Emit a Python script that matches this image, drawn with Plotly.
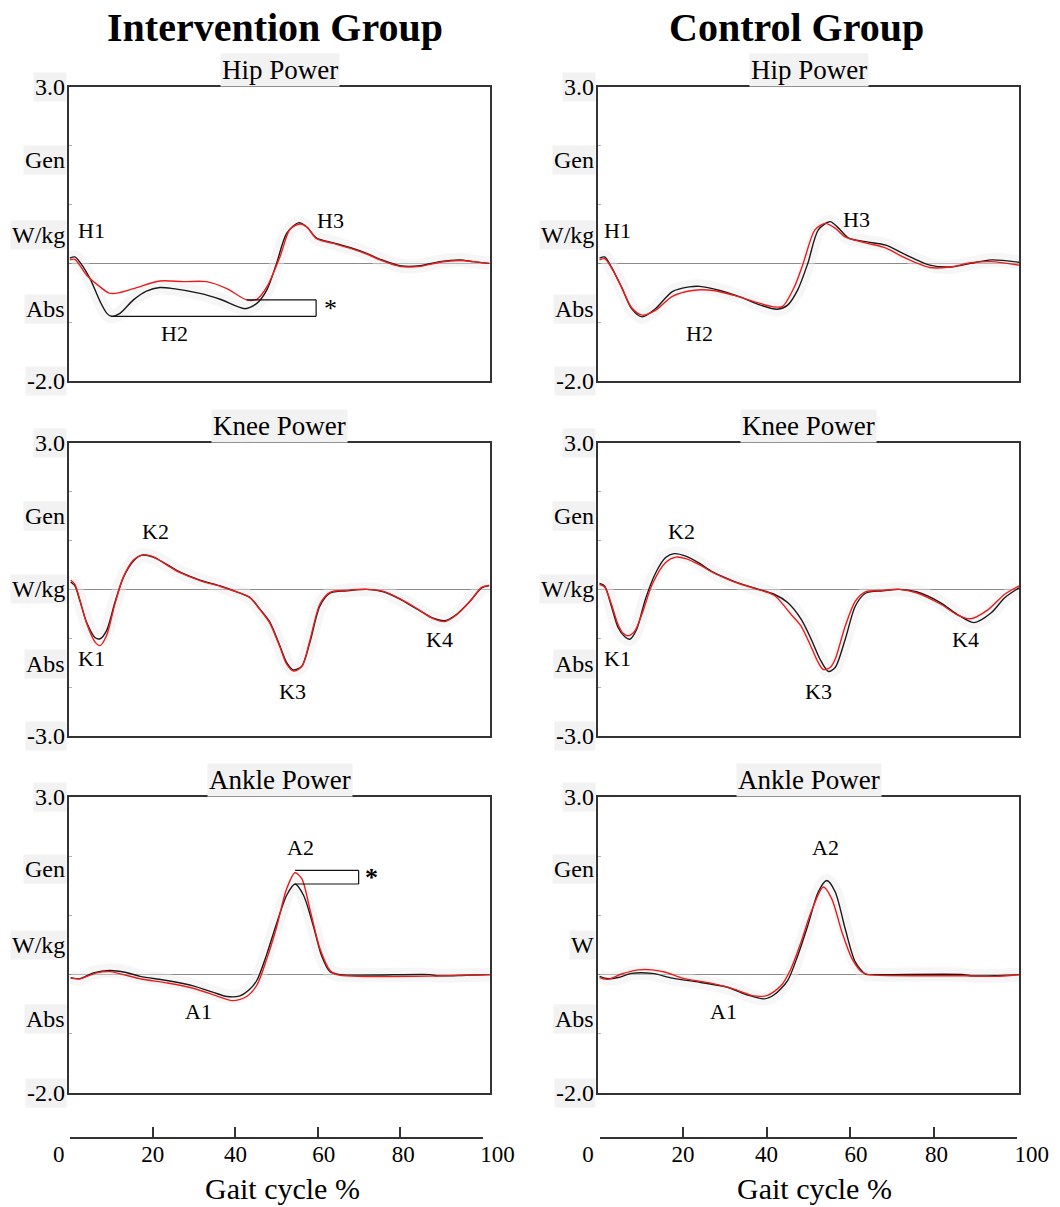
import plotly.graph_objects as go

# ---------------- data (gait cycle %, W/kg) ----------------
# black = pre, red = post
hip_int_pre_x = [0.2, 1.4, 3.0, 5.0, 7.4, 9.0, 10.1, 12.1, 15.3, 18.4, 21.6, 24.8, 31.1, 35.9, 41.8, 44.6, 47.0, 49.3, 51.7, 54.5, 56.5, 58.8, 62.8, 66.7, 70.7, 73.9, 78.6, 83.4, 88.1, 92.9, 96.0, 99.8]
hip_int_pre_y = [0.09, 0.11, -0.02, -0.26, -0.65, -0.85, -0.90, -0.85, -0.62, -0.47, -0.41, -0.43, -0.51, -0.61, -0.77, -0.68, -0.45, 0.0, 0.51, 0.69, 0.62, 0.43, 0.35, 0.27, 0.17, 0.07, -0.04, -0.04, 0.03, 0.06, 0.03, 0.0]
hip_int_post_x = [0.2, 1.4, 4.2, 7.4, 9.4, 11.0, 15.3, 21.6, 27.2, 32.7, 37.5, 42.2, 44.6, 47.0, 50.1, 52.5, 54.9, 56.5, 58.8, 62.8, 66.7, 70.7, 73.9, 78.6, 83.4, 88.1, 92.9, 96.0, 99.8]
hip_int_post_y = [0.06, 0.07, -0.20, -0.40, -0.50, -0.51, -0.43, -0.30, -0.31, -0.31, -0.43, -0.62, -0.61, -0.40, 0.11, 0.58, 0.67, 0.62, 0.42, 0.34, 0.26, 0.16, 0.06, -0.05, -0.05, 0.02, 0.05, 0.03, 0.0]

hip_con_pre_x = [0.3, 1.5, 3.1, 5.5, 7.9, 10.4, 13.6, 17.6, 21.6, 24.1, 28.9, 33.7, 38.6, 42.6, 45.0, 47.4, 49.8, 52.3, 55.1, 57.1, 59.5, 63.5, 68.4, 72.4, 78.8, 83.7, 88.5, 93.4, 100.0]
hip_con_pre_y = [0.09, 0.11, -0.06, -0.40, -0.77, -0.91, -0.77, -0.48, -0.40, -0.39, -0.46, -0.57, -0.71, -0.78, -0.71, -0.45, 0.0, 0.57, 0.71, 0.60, 0.43, 0.37, 0.31, 0.17, -0.03, -0.06, 0.0, 0.06, 0.02]
hip_con_post_x = [0.3, 1.5, 3.1, 5.5, 7.9, 10.4, 13.6, 17.6, 22.4, 27.3, 32.1, 37.0, 41.8, 43.8, 46.6, 48.7, 51.5, 53.9, 56.3, 58.7, 63.5, 68.4, 72.4, 78.8, 83.7, 88.5, 93.4, 100.0]
hip_con_post_y = [0.06, 0.08, -0.07, -0.40, -0.75, -0.88, -0.80, -0.56, -0.46, -0.46, -0.54, -0.65, -0.74, -0.73, -0.40, 0.0, 0.57, 0.68, 0.60, 0.45, 0.35, 0.26, 0.11, -0.07, -0.06, 0.01, 0.03, -0.03]

knee_int_x = [0.4, 1.4, 2.6, 4.2, 6.2, 7.4, 8.9, 10.9, 12.9, 15.3, 17.3, 20.0, 23.2, 26.4, 31.1, 35.9, 39.8, 43.0, 45.4, 47.7, 50.1, 51.7, 53.3, 55.3, 57.2, 59.6, 62.0, 66.0, 70.7, 74.7, 78.6, 82.6, 86.5, 89.3, 92.1, 95.3, 98.0, 99.8]
knee_int_pre_y = [0.15, 0.07, -0.24, -0.68, -0.99, -1.01, -0.85, -0.27, 0.24, 0.58, 0.70, 0.66, 0.51, 0.35, 0.19, 0.07, -0.05, -0.17, -0.41, -0.67, -1.16, -1.50, -1.65, -1.57, -1.09, -0.34, -0.08, -0.03, 0.0, -0.05, -0.20, -0.40, -0.59, -0.64, -0.51, -0.24, 0.03, 0.08]
knee_int_post_y = [0.19, 0.10, -0.22, -0.70, -1.08, -1.15, -0.95, -0.30, 0.25, 0.60, 0.70, 0.67, 0.50, 0.34, 0.18, 0.06, -0.05, -0.17, -0.42, -0.69, -1.18, -1.53, -1.67, -1.58, -1.05, -0.30, -0.06, -0.02, 0.0, -0.04, -0.19, -0.39, -0.60, -0.66, -0.52, -0.24, 0.04, 0.08]

knee_con_pre_x = [0.3, 1.5, 3.1, 4.7, 6.3, 7.5, 9.1, 11.2, 13.6, 16.0, 18.0, 20.8, 24.1, 27.3, 32.1, 37.0, 41.8, 45.0, 48.2, 50.6, 52.7, 54.7, 56.3, 58.7, 61.1, 63.5, 67.6, 71.6, 75.6, 81.3, 85.3, 89.3, 93.4, 96.6, 100.0]
knee_con_pre_y = [0.12, 0.07, -0.34, -0.78, -0.97, -1.02, -0.82, -0.20, 0.33, 0.65, 0.73, 0.68, 0.53, 0.35, 0.17, 0.03, -0.10, -0.27, -0.61, -1.02, -1.43, -1.68, -1.60, -1.02, -0.34, -0.08, -0.03, 0.0, -0.05, -0.27, -0.51, -0.68, -0.48, -0.17, 0.03]
knee_con_post_x = [0.3, 1.5, 3.1, 4.7, 5.9, 7.1, 8.7, 10.4, 12.8, 16.0, 18.4, 20.8, 24.1, 27.3, 32.1, 37.0, 41.8, 45.8, 48.2, 50.6, 52.3, 53.5, 55.1, 56.3, 58.7, 61.1, 63.5, 67.6, 71.6, 75.6, 81.3, 85.3, 88.5, 92.6, 96.6, 100.0]
knee_con_post_y = [0.10, 0.05, -0.30, -0.72, -0.90, -0.95, -0.85, -0.50, 0.10, 0.55, 0.66, 0.63, 0.50, 0.34, 0.16, 0.02, -0.12, -0.51, -0.75, -1.18, -1.50, -1.64, -1.60, -1.43, -0.75, -0.24, -0.05, -0.02, 0.0, -0.07, -0.30, -0.52, -0.60, -0.42, -0.10, 0.07]

ankle_int_pre_x = [0.4, 2.6, 5.8, 9.7, 13.3, 16.9, 23.2, 29.5, 34.3, 37.5, 40.6, 42.6, 44.6, 47.0, 49.3, 51.7, 53.7, 55.7, 58.0, 60.0, 62.0, 64.4, 85.7, 87.3, 94.5, 100.0]
ankle_int_pre_y = [-0.05, -0.07, 0.03, 0.07, 0.04, -0.03, -0.10, -0.19, -0.30, -0.37, -0.36, -0.27, -0.10, 0.35, 0.86, 1.34, 1.53, 1.34, 0.83, 0.32, 0.05, 0.0, 0.0, -0.02, -0.01, 0.0]
ankle_int_post_x = [0.4, 2.6, 6.6, 9.7, 16.9, 23.2, 29.5, 35.9, 39.0, 42.2, 44.6, 47.0, 49.3, 51.7, 53.7, 55.3, 57.2, 59.6, 62.0, 63.6, 100.0]
ankle_int_post_y = [-0.06, -0.07, 0.03, 0.05, -0.07, -0.14, -0.23, -0.38, -0.44, -0.37, -0.18, 0.27, 0.80, 1.45, 1.72, 1.62, 1.11, 0.44, 0.07, 0.0, 0.0]

ankle_con_pre_x = [0.3, 2.3, 4.7, 7.9, 12.8, 17.6, 24.1, 30.5, 35.3, 39.4, 41.8, 45.0, 47.4, 49.8, 52.3, 54.3, 56.3, 58.7, 61.1, 63.5, 65.1, 86.9, 88.5, 94.2, 100.0]
ankle_con_pre_y = [-0.03, -0.07, -0.05, 0.02, 0.02, -0.06, -0.13, -0.21, -0.34, -0.41, -0.34, -0.10, 0.32, 0.83, 1.40, 1.59, 1.40, 0.77, 0.21, 0.01, 0.0, 0.0, -0.02, -0.02, 0.0]
ankle_con_post_x = [0.3, 2.3, 5.5, 9.5, 12.8, 16.0, 20.0, 26.5, 32.1, 37.0, 40.2, 43.4, 45.8, 48.2, 50.6, 53.5, 55.5, 57.9, 60.3, 62.7, 64.3, 86.9, 94.2, 100.0]
ankle_con_post_y = [-0.05, -0.08, 0.01, 0.08, 0.08, 0.04, -0.06, -0.14, -0.24, -0.36, -0.35, -0.19, 0.10, 0.55, 1.06, 1.48, 1.28, 0.72, 0.27, 0.04, 0.0, -0.02, -0.03, 0.0]

group_titles = ["Intervention Group", "Control Group"]
panel_titles = ["Hip Power", "Knee Power", "Ankle Power"]
y_ranges = [[-2.0, 3.0], [-3.0, 3.0], [-2.0, 3.0]]
y_minor_ticks = [[2, 1, -1], [2, 1, -1, -2], [2, 1, -1]]
gait_ticks = [0, 20, 40, 60, 80, 100]
gait_tick_labels = ["0", "20", "40", "60", "80", "100"]
x_title = "Gait cycle %"

# phase labels per panel: (text, x %, y W/kg)
phase_labels = {
    1: [("H1", 5.4, 0.56), ("H2", 25.0, -1.2), ("H3", 62.0, 0.73)],
    2: [("H1", 4.5, 0.56), ("H2", 24.0, -1.2), ("H3", 61.4, 0.74)],
    3: [("K1", 5.4, -1.42), ("K2", 20.6, 1.18), ("K3", 53.1, -2.08), ("K4", 88.0, -1.02)],
    4: [("K1", 4.5, -1.42), ("K2", 19.8, 1.18), ("K3", 52.4, -2.08), ("K4", 87.3, -1.02)],
    5: [("A2", 54.9, 2.15), ("A1", 30.7, -0.62)],
    6: [("A2", 54.0, 2.15), ("A1", 29.7, -0.62)],
}

series = {
    1: (hip_int_pre_x, hip_int_pre_y, hip_int_post_x, hip_int_post_y),
    2: (hip_con_pre_x, hip_con_pre_y, hip_con_post_x, hip_con_post_y),
    3: (knee_int_x, knee_int_pre_y, knee_int_x, knee_int_post_y),
    4: (knee_con_pre_x, knee_con_pre_y, knee_con_post_x, knee_con_post_y),
    5: (ankle_int_pre_x, ankle_int_pre_y, ankle_int_post_x, ankle_int_post_y),
    6: (ankle_con_pre_x, ankle_con_pre_y, ankle_con_post_x, ankle_con_post_y),
}

# ---------------- layout geometry ----------------
W, H = 1060, 1207
FONT = "Liberation Serif, Times New Roman, serif"
col_px = [(69, 490), (598.3, 1019)]
row_px = [(87, 381), (442.7, 736), (797, 1093)]

def px_x(a, b):
    return [a / W, b / W]

def px_y(top, bottom):
    return [1 - bottom / H, 1 - top / H]

side_labels = {
    (0, 0): [("3.0", 3.0), ("Gen", 1.76), ("W/kg", 0.48), ("Abs", -0.78), ("-2.0", -2.0)],
    (1, 0): [("3.0", 3.0), ("Gen", 1.5), ("W/kg", 0.0), ("Abs", -1.52), ("-3.0", -3.0)],
    (2, 0): [("3.0", 3.0), ("Gen", 1.78), ("W/kg", 0.5), ("Abs", -0.75), ("-2.0", -2.0)],
}
side_labels[(0, 1)] = side_labels[(0, 0)]
side_labels[(1, 1)] = side_labels[(1, 0)]
side_labels[(2, 1)] = [("3.0", 3.0), ("Gen", 1.78), ("W", 0.5), ("Abs", -0.75), ("-2.0", -2.0)]

fig = go.Figure()
layout = dict(
    width=W, height=H, margin=dict(l=0, r=0, t=0, b=0, autoexpand=False),
    paper_bgcolor="white", plot_bgcolor="white", showlegend=False,
    font=dict(family=FONT, color="black"),
)
annotations = []
shapes = []

BLACK = "#1a1a1a"
RED = "#ec1c1c"

for r in range(3):
    for c in range(2):
        n = r * 2 + c + 1
        sx = "" if n == 1 else str(n)
        xa, ya = "x" + sx, "y" + sx
        px, py, qx, qy = series[n]
        # faint variability halo
        fig.add_trace(go.Scatter(x=px, y=py, mode="lines", xaxis=xa, yaxis=ya,
                                 line=dict(color="rgba(236,236,236,0.45)", width=14, shape="spline", smoothing=0.8),
                                 hoverinfo="skip"))
        fig.add_trace(go.Scatter(x=px, y=py, mode="lines", name="Pre", xaxis=xa, yaxis=ya,
                                 line=dict(color=BLACK, width=1.4, shape="spline", smoothing=0.8)))
        fig.add_trace(go.Scatter(x=qx, y=qy, mode="lines", name="Post", xaxis=xa, yaxis=ya,
                                 line=dict(color=RED, width=1.4, shape="spline", smoothing=0.8)))
        layout["xaxis" + sx] = dict(domain=px_x(*col_px[c]), anchor=ya, range=[0, 100],
                                    showline=True, mirror=True, linecolor="#333333", linewidth=1.5,
                                    showgrid=False, zeroline=False, showticklabels=False, ticks="",
                                    automargin=False)
        layout["yaxis" + sx] = dict(domain=px_y(*row_px[r]), anchor=xa, range=y_ranges[r],
                                    showline=True, mirror=True, linecolor="#333333", linewidth=1.5,
                                    showgrid=False, zeroline=True, zerolinecolor="#8a8a8a", zerolinewidth=1,
                                    tickmode="array", tickvals=y_minor_ticks[r], ticks="inside",
                                    ticklen=3, tickcolor="#b0b0b0", showticklabels=False,
                                    automargin=False)
        annotations.append(dict(text=panel_titles[r], xref=xa + " domain", yref=ya + " domain",
                                x=0.5, y=1, xanchor="center", yanchor="middle", yshift=17,
                                showarrow=False, bgcolor="#f2f2f2", borderpad=1,
                                font=dict(family=FONT, size=27, color="black")))
        for txt, yv in side_labels[(r, c)]:
            annotations.append(dict(text=txt, xref=xa + " domain", yref=ya, x=0, y=yv,
                                    xanchor="right", yanchor="middle", xshift=-2,
                                    showarrow=False, bgcolor="#f2f2f2", borderpad=1,
                                    font=dict(family=FONT, size=24, color="black")))
        for txt, xv, yv in phase_labels[n]:
            annotations.append(dict(text=txt, xref=xa, yref=ya, x=xv, y=yv,
                                    xanchor="center", yanchor="middle", showarrow=False,
                                    font=dict(family=FONT, size=22, color="black")))

# significance brackets derived from the curves
def bracket(xa, ya, x_end, lo_pair, hi_pair, star_bold, star_dx):
    (x1, y1), (x2, y2) = lo_pair, hi_pair
    line = dict(color="#111111", width=1.2)
    shapes.append(dict(type="line", xref=xa, yref=ya, x0=x1, y0=y1, x1=x_end, y1=y1, line=line))
    shapes.append(dict(type="line", xref=xa, yref=ya, x0=x2, y0=y2, x1=x_end, y1=y2, line=line))
    shapes.append(dict(type="line", xref=xa, yref=ya, x0=x_end, y0=y1, x1=x_end, y1=y2, line=line))
    annotations.append(dict(text="<b>*</b>" if star_bold else "*", xref=xa, yref=ya,
                            x=x_end, y=(y1 + y2) / 2, xanchor="left", yanchor="middle",
                            xshift=star_dx, showarrow=False,
                            font=dict(family=FONT, size=26, color="black")))

pre_min_i = min(range(len(hip_int_pre_y)), key=lambda i: hip_int_pre_y[i])
post_win = [i for i, x in enumerate(hip_int_post_x) if 35 <= x <= 50]
post_min_i = min(post_win, key=lambda i: hip_int_post_y[i])
bracket("x", "y", 58.7,
        (hip_int_pre_x[pre_min_i], hip_int_pre_y[pre_min_i]),
        (hip_int_post_x[post_min_i], hip_int_post_y[post_min_i]), False, 6)
pk_pre = max(range(len(ankle_int_pre_y)), key=lambda i: ankle_int_pre_y[i])
pk_post = max(range(len(ankle_int_post_y)), key=lambda i: ankle_int_post_y[i])
bracket("x5", "y5", 68.8,
        (ankle_int_post_x[pk_post], ankle_int_post_y[pk_post] + 0.04),
        (ankle_int_pre_x[pk_pre], ankle_int_pre_y[pk_pre]), True, 4)

# bottom gait-cycle axes (labels nudged outward at the ends like the original)
NB = "\u00a0"
pad_left = [0, 0, 0, 2, 1, 5]
pad_right = [4, 0, 0, 0, 0, 0]
tick_text = [NB * pl + t + NB * pr for t, pl, pr in zip(gait_tick_labels, pad_left, pad_right)]
for c, (xs, ys) in enumerate([("7", "7"), ("8", "8")]):
    a, b = [(70.3, 483), (599.5, 1017.3)][c]
    fig.add_trace(go.Scatter(x=gait_ticks, y=[0] * len(gait_ticks), mode="markers",
                             marker=dict(opacity=0), xaxis="x" + xs, yaxis="y" + ys, hoverinfo="skip"))
    layout["xaxis" + xs] = dict(domain=px_x(a, b), anchor="y" + ys, range=[0, 100],
                                showline=True, linecolor="#333333", linewidth=1.5,
                                ticks="inside", ticklen=10, tickwidth=1.5, tickcolor="#333333",
                                tickmode="array", tickvals=gait_ticks, ticktext=tick_text,
                                showgrid=False, zeroline=False, ticklabelstandoff=-4,
                                tickfont=dict(family=FONT, size=23, color="black"), automargin=False)
    layout["yaxis" + ys] = dict(domain=px_y(1120, 1137), anchor="x" + xs, range=[0, 1], visible=False)
    annotations.append(dict(text=x_title, xref="paper", yref="paper",
                            x=[282, 814][c] / W, y=1 - 1188 / H, xanchor="center", yanchor="middle",
                            showarrow=False, font=dict(family=FONT, size=30, color="black")))

for c, t in enumerate(group_titles):
    annotations.append(dict(text="<b>%s</b>" % t, xref="paper", yref="paper",
                            x=[275, 796][c] / W, y=1 - 27 / H, xanchor="center", yanchor="middle",
                            showarrow=False, font=dict(family=FONT, size=40, color="black")))

layout["annotations"] = annotations
layout["shapes"] = shapes
fig.update_layout(**layout)
fig.write_html("out.html")
